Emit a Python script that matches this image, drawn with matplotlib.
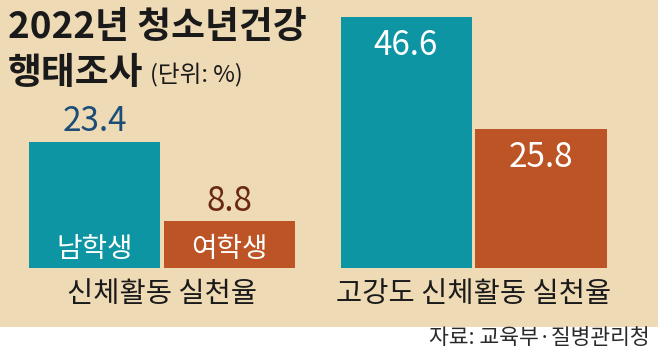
import matplotlib
matplotlib.use('Agg')
import matplotlib.pyplot as plt
from matplotlib.patches import Rectangle

plt.rcParams['font.family'] = ['Noto Sans CJK KR', 'DejaVu Sans']

# data
groups = ['신체활동 실천율', '고강도 신체활동 실천율']
sexes = ['남학생', '여학생']
boys = [23.4, 46.6]
girls = [8.8, 25.8]
title1 = '2022년 청소년건강'
title2 = '행태조사'
unit = '(단위: %)'
source = '자료: 교육부·질병관리청'

W, H = 658, 362
teal = '#0E95A3'
orange = '#BC5425'
bg = '#EEDAB5'

fig = plt.figure(figsize=(W/100, H/100), dpi=100, facecolor='white')
fig.patches.append(Rectangle((0, 1-327/H), 1, 327/H, transform=fig.transFigure,
                             facecolor=bg, edgecolor='none', zorder=-5))

def px(x, y):
    return x/W, 1-y/H

# axes: baseline at 268 px from top, 5.39 px per percent, 135 px per bar step
ax = fig.add_axes([0, (H-268)/H, 1, 268/H])
ax.set_facecolor('none')
ax.set_zorder(2)
step = 135.0
x0 = 94.5
ax.set_xlim(-x0/step, (W-x0)/step)
ax.set_ylim(0, 268/5.39)
ax.axis('off')

gap = 176.5/step
pos_b = [0, 1 + gap]
pos_g = [1, 2 + gap]
w = 131/step

ax.bar(pos_b, boys, width=w, color=teal, zorder=2)
ax.bar(pos_g, girls, width=w, color=orange, zorder=2)

# first group: values above bars, sex label inside
ax.annotate(f'{boys[0]}', (pos_b[0], boys[0]), xytext=(0, 8), textcoords='offset points',
            ha='center', va='baseline', fontsize=24, color='#1C4C78', annotation_clip=False)
ax.annotate(f'{girls[0]}', (pos_g[0], girls[0]), xytext=(0, 7), textcoords='offset points',
            ha='center', va='baseline', fontsize=24, color='#6A2812', annotation_clip=False)
ax.annotate(sexes[0], (pos_b[0], 0), xytext=(0, 14), textcoords='offset points',
            ha='center', va='center', fontsize=20, color='white', zorder=3)
ax.annotate(sexes[1], (pos_g[0], 0), xytext=(0, 14), textcoords='offset points',
            ha='center', va='center', fontsize=20, color='white', zorder=3)

# second group: values inside bars
ax.annotate(f'{boys[1]}', (pos_b[1], boys[1]), xytext=(0, -27.5), textcoords='offset points',
            ha='center', va='baseline', fontsize=24, color='white', zorder=3)
ax.annotate(f'{girls[1]}', (pos_g[1], girls[1]), xytext=(0, -27.5), textcoords='offset points',
            ha='center', va='baseline', fontsize=24, color='white', zorder=3)

# group labels
for i in range(2):
    c = (pos_b[i] + pos_g[i]) / 2
    ax.annotate(groups[i], (c, 0), xytext=(0, -19), textcoords='offset points',
                ha='center', va='center', fontsize=20.5, color='#1a1a1a',
                annotation_clip=False)

# title
fig.text(*px(8, 38), title1, fontsize=26.5, color='#1a1a1a', va='baseline', ha='left',
         fontweight='bold')
fig.text(*px(8, 84), title2, fontsize=26.5, color='#1a1a1a', va='baseline', ha='left',
         fontweight='bold')
fig.text(*px(150, 82), unit, fontsize=17, color='#1a1a1a', va='baseline', ha='left')

# source
fig.text(*px(650, 338), source, fontsize=15.5, color='#2a2a2a', va='center', ha='right')

fig.savefig('out.png', dpi=100, facecolor='white')
